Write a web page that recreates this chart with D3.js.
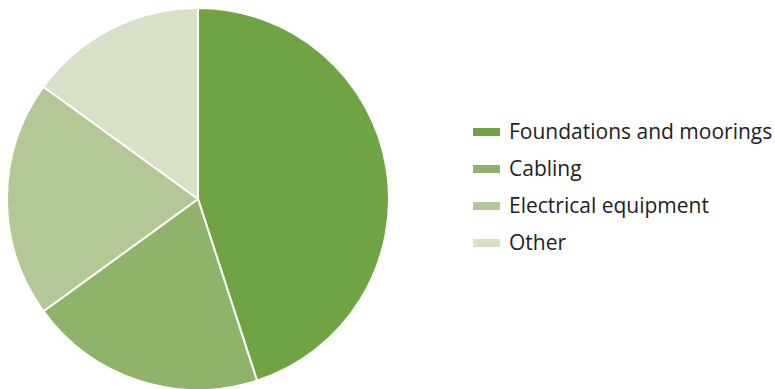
<!DOCTYPE html>
<html>
<head>
<meta charset="utf-8">
<script src="https://cdn.jsdelivr.net/npm/d3@7"></script>
<style>
  html, body { margin: 0; padding: 0; background: #fff; }
  svg { display: block; }
</style>
</head>
<body>
<svg id="chart" width="775" height="389"></svg>
<script>
// Cost breakdown shares (%)
const categories = ["Foundations and moorings", "Cabling", "Electrical equipment", "Other"];
const values = [45, 20, 20, 15];
const colors = ["#6fa344", "#8fb36a", "#b3c895", "#d8e0c8"];

const svg = d3.select("#chart");
const cx = 198, cy = 199, radius = 191;

const pie = d3.pie().sort(null).value(d => d.value);
const arc = d3.arc().innerRadius(0).outerRadius(radius);

const data = categories.map((c, i) => ({ name: c, value: values[i], color: colors[i] }));

const g = svg.append("g").attr("transform", `translate(${cx},${cy})`);
g.selectAll("path")
  .data(pie(data))
  .join("path")
  .attr("d", arc)
  .attr("fill", d => d.data.color)
  .attr("stroke", "#fff")
  .attr("stroke-width", 2)
  .attr("stroke-linejoin", "round");

// Legend
const legend = svg.append("g").attr("transform", "translate(473,132)");
const rowH = 37;
const item = legend.selectAll("g")
  .data(data)
  .join("g")
  .attr("transform", (d, i) => `translate(0,${i * rowH})`);
item.append("rect")
  .attr("x", 0).attr("y", -4)
  .attr("width", 27).attr("height", 8)
  .attr("fill", d => d.color);
item.append("text")
  .attr("x", 36).attr("y", 0)
  .attr("dy", "0.35em")
  .attr("font-family", "'Open Sans', sans-serif")
  .attr("font-size", 21)
  .attr("fill", "#222")
  .text(d => d.name);
</script>
</body>
</html>
